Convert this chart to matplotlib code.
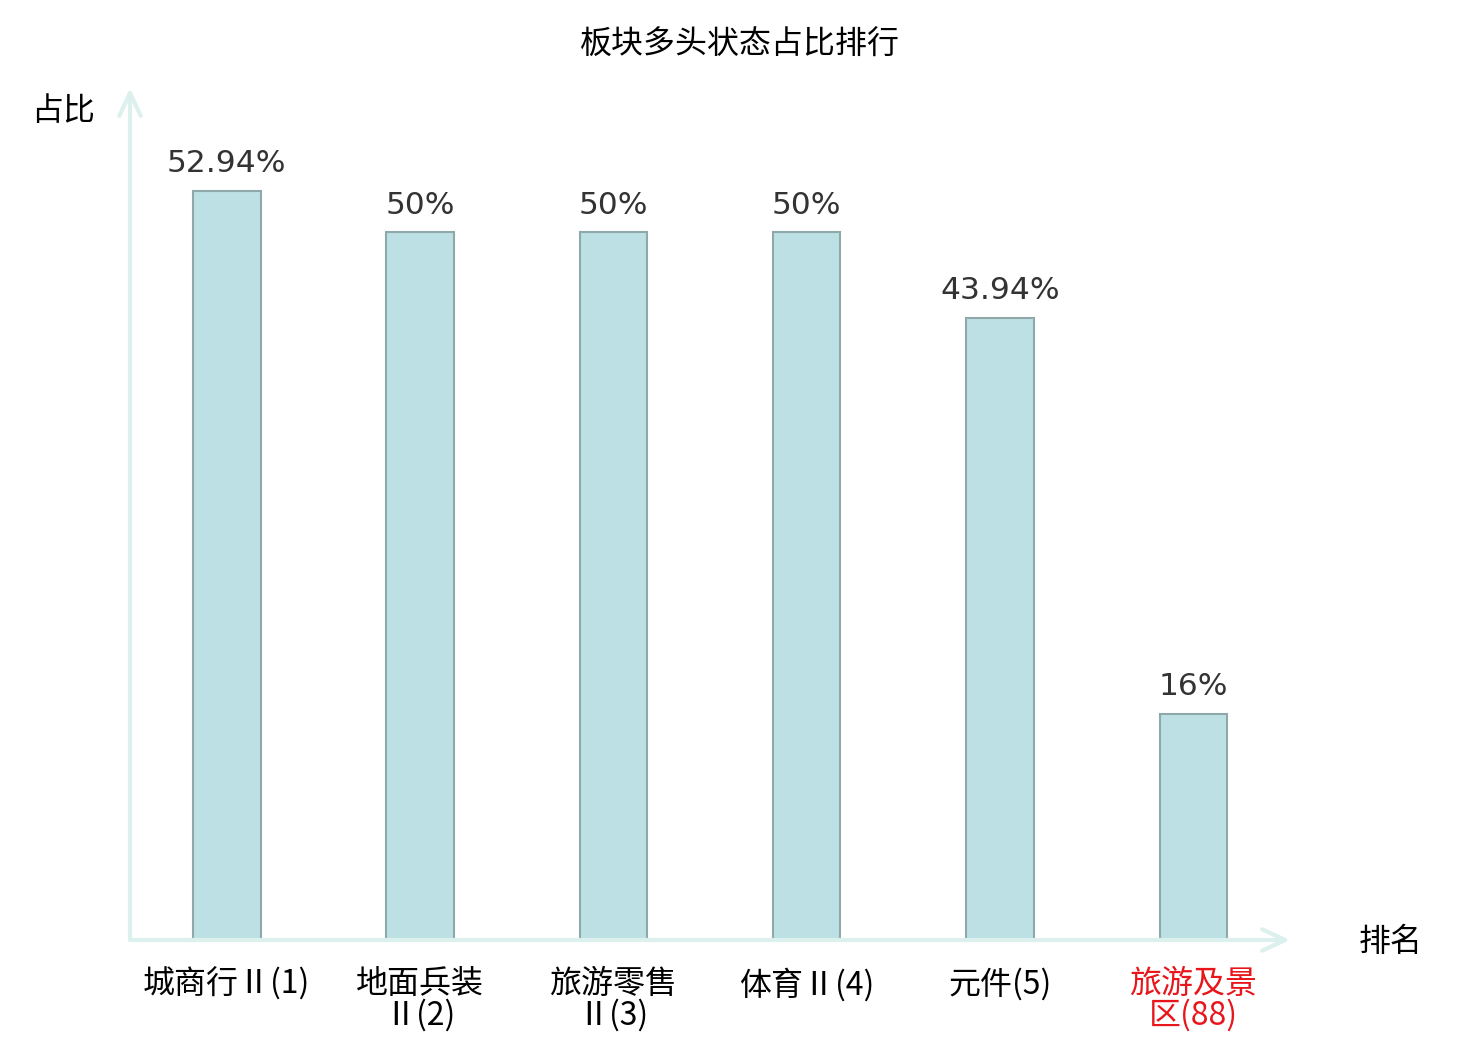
import numpy as np
import matplotlib.pyplot as plt

plt.rcParams['font.family'] = ['Noto Sans CJK SC', 'DejaVu Sans']

categories = ['城商行Ⅱ(1)', '地面兵装\nⅡ(2)', '旅游零售\nⅡ(3)', '体育Ⅱ(4)', '元件(5)', '旅游及景\n区(88)']
values = [52.94, 50, 50, 50, 43.94, 16]
value_labels = ['52.94%', '50%', '50%', '50%', '43.94%', '16%']
label_colors = ['black', 'black', 'black', 'black', 'black', '#e8161b']

fig = plt.figure(figsize=(14.8, 10.4), dpi=100)
ax = fig.add_axes([130 / 1480, 1 - 940 / 1040, 1160 / 1480, 852 / 1040])

x = np.arange(len(values))
ax.bar(x, values, width=0.35, color='#bce0e3', edgecolor='#8fa9ab', linewidth=1.5, zorder=2)

for xi, v, lab in zip(x, values, value_labels):
    ax.text(xi, v + 0.9, lab, ha='center', va='bottom', fontsize=22.5,
            color='#333333', family=['DejaVu Sans'])

ax.set_xlim(-0.5, 5.5)
ax.set_ylim(0, 60.2)
for s in ax.spines.values():
    s.set_visible(False)
ax.set_yticks([])
ax.set_xticks(x)
ax.set_xticklabels(categories, fontsize=23, linespacing=0.97)
for t, c in zip(ax.get_xticklabels(), label_colors):
    t.set_color(c)
ax.tick_params(axis='x', length=0, pad=20)

# axis arrows
arrow = dict(arrowstyle='->,head_length=0.75,head_width=0.35', color='#dcf1ee', lw=3,
             mutation_scale=22, shrinkA=0, shrinkB=0)
ax.annotate('', xy=(1, 0), xytext=(0, 0), xycoords='axes fraction', arrowprops=arrow)
ax.annotate('', xy=(0, 1), xytext=(0, 0), xycoords='axes fraction', arrowprops=arrow)

fig.text(740 / 1480, 1 - 45 / 1040, '板块多头状态占比排行', ha='center', va='center', fontsize=23)
fig.text(63 / 1480, 1 - 111 / 1040, '占比', ha='center', va='center', fontsize=23)
fig.text(1391 / 1480, 1 - 942 / 1040, '排名', ha='center', va='center', fontsize=23)

fig.savefig('out.png', dpi=100)
